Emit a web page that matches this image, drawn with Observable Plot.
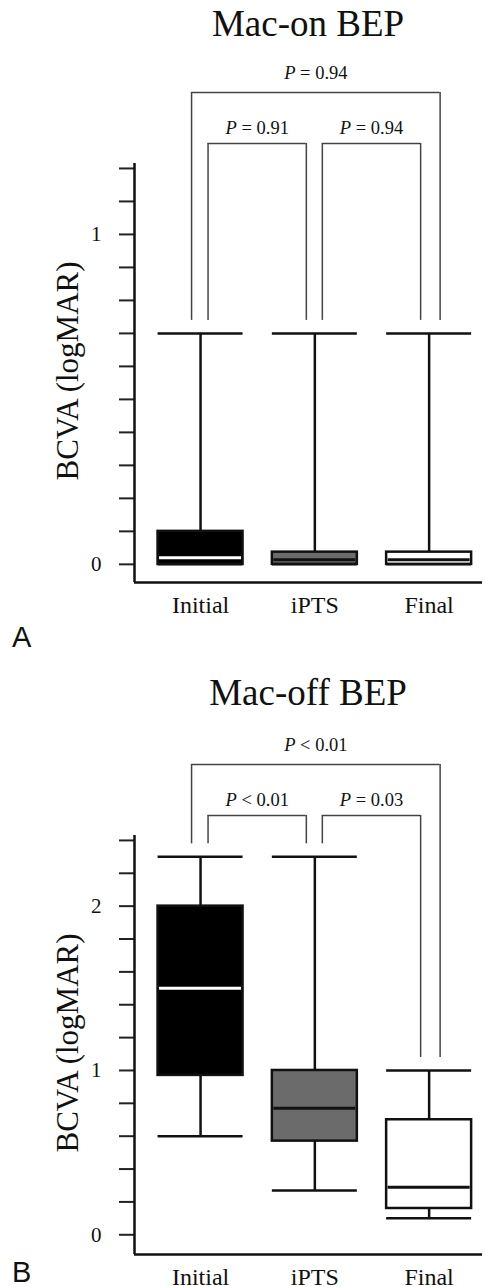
<!DOCTYPE html>
<html>
<head>
<meta charset="utf-8">
<script src="https://cdn.jsdelivr.net/npm/d3@7"></script>
<script src="https://cdn.jsdelivr.net/npm/@observablehq/plot@0.6"></script>
<style>
  html, body { margin: 0; padding: 0; background: #fff; overflow: hidden; }
  #root { position: relative; width: 485px; height: 1287px; }
  .title { position: absolute; left: 108px; width: 400px; text-align: center;
           font-family: "Liberation Serif", "Times New Roman", serif; font-size: 37px; line-height: 37px; color: #111; }
  .tag { position: absolute; left: 12px; font-family: "Liberation Sans", Arial, sans-serif;
         font-size: 29px; line-height: 29px; color: #111; }
  .panel { position: absolute; left: 0; }
  .panel svg text { font-family: "Liberation Serif", "Times New Roman", serif !important; }
</style>
</head>
<body>
<div id="root">
  <div class="title" style="top:5px">Mac-on BEP</div>
  <div class="panel" id="panelA" style="top:45px"></div>
  <div class="tag" style="top:623px">A</div>
  <div class="title" style="top:674px">Mac-off BEP</div>
  <div class="panel" id="panelB" style="top:717px"></div>
  <div class="tag" style="top:1258px">B</div>
</div>
<script>
// ---------- data ----------
const groups = ["Initial", "iPTS", "Final"];

// Panel A: Mac-on BEP (BCVA, logMAR)
const aMin    = [0, 0, 0];
const aQ1     = [0, 0, 0];
const aMedian = [0.02, 0.014, 0.014];
const aQ3     = [0.1, 0.037, 0.037];
const aMax    = [0.7, 0.7, 0.7];
const aTicks  = [0, 0.1, 0.2, 0.3, 0.4, 0.5, 0.6, 0.7, 0.8, 0.9, 1, 1.1, 1.2];
const aTickLabels = [0, 1];
const aCompFrom = [0, 0, 1];
const aCompTo   = [2, 1, 2];
const aCompText = ["P = 0.94", "P = 0.91", "P = 0.94"];

// Panel B: Mac-off BEP (BCVA, logMAR)
const bMin    = [0.6, 0.27, 0.1];
const bQ1     = [0.97, 0.57, 0.16];
const bMedian = [1.5, 0.77, 0.29];
const bQ3     = [2.0, 1.0, 0.7];
const bMax    = [2.3, 2.3, 1.0];
const bTicks  = [0, 0.2, 0.4, 0.6, 0.8, 1, 1.2, 1.4, 1.6, 1.8, 2, 2.2, 2.4];
const bTickLabels = [0, 1, 2];
const bCompFrom = [0, 0, 1];
const bCompTo   = [2, 1, 2];
const bCompText = ["P < 0.01", "P < 0.01", "P = 0.03"];

const yLabel = "BCVA (logMAR)";

// ---------- layout / style ----------
const SERIF = '"Liberation Serif", "Times New Roman", serif';
const FRAME_TOP = 118, FRAME_H = 419;
const X_DOMAIN = [-0.578, 2.467];
const PX_X = 348 / (X_DOMAIN[1] - X_DOMAIN[0]);
const HALF = 42.5 / PX_X;
const FILLS = ["#000000", "#6b6b6b", "#ffffff"];
const MEDIAN_COLORS = ["#ffffff", "#111111", "#111111"];
const INK = "#111";
const P_SIZE = 18.5;

function drawPanel(cfg) {
  const {min, q1, median, q3, max, ticks, tickLabels, yDomain, compFrom, compTo, compText, height} = cfg;
  const ppu = FRAME_H / (yDomain[1] - yDomain[0]);
  const rows = groups.map((g, i) => ({i, g, min: min[i], q1: q1[i], median: median[i], q3: q3[i], max: max[i]}));
  const comps = compFrom.map((f, k) => {
    const t = compTo[k];
    const outer = t - f > 1;
    const yb = yDomain[1] + (outer ? 71 : 20) / ppu;
    const xl = f + (outer ? -9 : 7.5) / PX_X;
    const xr = t + (outer ? 11 : -8.5) / PX_X;
    return {
      text: compText[k], yb, xl, xr,
      ylL: max[f] + 13 / ppu, ylR: max[t] + 13 / ppu,
      yt: yb + ((outer ? 13.5 : 9.3) + 0.32 * P_SIZE) / ppu
    };
  });
  const svg = Plot.plot({
    width: 485, height,
    marginLeft: 134, marginRight: 3, marginTop: FRAME_TOP, marginBottom: height - FRAME_TOP - FRAME_H,
    x: {domain: X_DOMAIN},
    y: {domain: yDomain},
    color: {type: "identity"},
    style: {fontFamily: SERIF, color: INK, background: "transparent", overflow: "visible"},
    marks: [
      Plot.axisY(ticks, {tickSize: 15, tickPadding: 18, fontSize: 21, fontFamily: SERIF, strokeWidth: 2, stroke: "#222",
        tickFormat: v => tickLabels.includes(v) ? String(v) : "", label: null}),
      Plot.axisX([0, 1, 2], {tickSize: 0, tickPadding: 13, fontSize: 24, fontFamily: SERIF, tickFormat: i => groups[i], label: null}),
      Plot.ruleY([yDomain[0]], {stroke: INK, strokeWidth: 2.5}),
      Plot.ruleX([X_DOMAIN[0]], {y1: yDomain[0], y2: yDomain[1], stroke: INK, strokeWidth: 2.5}),
      Plot.text([yLabel], {frameAnchor: "left", textAnchor: "middle", y: () => (yDomain[0] + yDomain[1]) / 2, text: d => d,
        rotate: -90, dx: -66, dy: -2, fontSize: 31, fontFamily: SERIF, fill: INK}),
      // brackets
      Plot.ruleY(comps, {y: "yb", x1: "xl", x2: "xr", stroke: "#444", strokeWidth: 1.5}),
      Plot.ruleX(comps, {x: "xl", y1: "ylL", y2: "yb", stroke: "#444", strokeWidth: 1.5}),
      Plot.ruleX(comps, {x: "xr", y1: "ylR", y2: "yb", stroke: "#444", strokeWidth: 1.5}),
      Plot.text(comps, {x: d => (d.xl + d.xr) / 2, y: "yt", text: "text", fontSize: P_SIZE, fontFamily: SERIF, fill: INK}),
      // whiskers
      Plot.ruleX(rows, {x: "i", y1: "q3", y2: "max", stroke: INK, strokeWidth: 2.5}),
      Plot.ruleX(rows, {x: "i", y1: "min", y2: "q1", stroke: INK, strokeWidth: 2.5}),
      Plot.ruleY(rows, {y: "max", x1: d => d.i - HALF, x2: d => d.i + HALF, stroke: INK, strokeWidth: 2.5}),
      Plot.ruleY(rows, {y: "min", x1: d => d.i - HALF, x2: d => d.i + HALF, stroke: INK, strokeWidth: 2.5}),
      // boxes
      Plot.rect(rows, {x1: d => d.i - HALF, x2: d => d.i + HALF, y1: "q1", y2: "q3",
        fill: d => FILLS[d.i], stroke: INK, strokeWidth: 2.5}),
      Plot.ruleY(rows, {y: "median", x1: d => d.i - HALF + 1.5 / PX_X, x2: d => d.i + HALF - 1.5 / PX_X,
        stroke: d => MEDIAN_COLORS[d.i], strokeWidth: 3})
    ]
  });
  svg.querySelectorAll("text").forEach(t => {
    t.style.fontFamily = SERIF;
    const s = t.textContent;
    if (/^P [=<]/.test(s) && t.children.length === 0) {
      t.textContent = "";
      const ns = "http://www.w3.org/2000/svg";
      const a = document.createElementNS(ns, "tspan");
      a.setAttribute("font-style", "italic");
      a.textContent = "P";
      const b = document.createElementNS(ns, "tspan");
      b.textContent = s.slice(1);
      t.appendChild(a); t.appendChild(b);
    }
  });
  return svg;
}

document.getElementById("panelA").appendChild(drawPanel({
  min: aMin, q1: aQ1, median: aMedian, q3: aQ3, max: aMax,
  ticks: aTicks, tickLabels: aTickLabels, yDomain: [-0.055, 1.215],
  compFrom: aCompFrom, compTo: aCompTo, compText: aCompText, height: 582
}));
document.getElementById("panelB").appendChild(drawPanel({
  min: bMin, q1: bQ1, median: bMedian, q3: bQ3, max: bMax,
  ticks: bTicks, tickLabels: bTickLabels, yDomain: [-0.12, 2.43],
  compFrom: bCompFrom, compTo: bCompTo, compText: bCompText, height: 570
}));
</script>
</body>
</html>
